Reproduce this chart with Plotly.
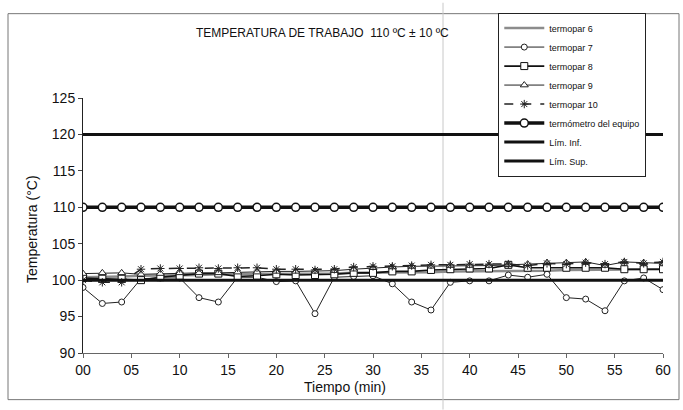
import plotly.graph_objects as go

# ---- data ----
tiempo = list(range(0, 61, 2))
tick_vals = list(range(0, 61, 5))
tick_text = ["00", "05", "10", "15", "20", "25", "30", "35", "40", "45", "50", "55", "60"]

termopar6 = [100.4, 100.4, 100.5, 100.6, 100.6, 100.7, 100.7, 100.8, 100.8, 100.8, 100.9,
             100.9, 100.9, 100.9, 101.0, 101.0, 101.1, 101.1, 101.1, 101.2, 101.2, 101.2,
             101.3, 101.3, 101.3, 101.4, 101.4, 101.4, 101.5, 101.5, 101.5]
termopar7 = [99.0, 96.8, 97.0, 100.2, 100.3, 100.3, 97.6, 97.0, 100.4, 100.4, 99.8,
             99.9, 95.4, 100.4, 100.5, 100.6, 99.5, 97.0, 95.9, 99.7, 99.9,
             99.9, 100.7, 100.4, 100.8, 97.6, 97.4, 95.8, 99.9, 100.3, 98.7]
termopar8 = [100.3, 100.2, 100.2, 100.0, 100.4, 100.6, 100.9, 100.9, 100.5, 100.6, 100.8,
             100.7, 100.7, 100.8, 101.0, 101.0, 101.2, 101.2, 101.4, 101.5, 101.6,
             101.6, 102.1, 101.7, 101.7, 101.7, 101.7, 101.7, 101.5, 101.5, 101.5]
termopar9 = [100.9, 101.0, 101.0, 100.8, 100.9, 101.0, 101.0, 101.0, 101.1, 101.1, 101.2,
             101.2, 101.2, 101.3, 101.5, 101.7, 101.8, 101.9, 101.9, 102.0, 102.0,
             102.0, 102.1, 102.2, 102.4, 102.4, 102.5, 102.0, 102.5, 102.4, 102.3]
termopar10 = [100.0, 99.7, 99.7, 101.5, 101.6, 101.6, 101.7, 101.6, 101.7, 101.7, 101.5,
              101.5, 101.4, 101.5, 101.8, 101.9, 101.9, 102.0, 102.1, 102.1, 102.2,
              102.2, 102.2, 102.0, 102.3, 102.2, 102.4, 102.2, 102.5, 102.3, 102.5]
termometro = [110.0] * 31
lim_inf = [100.0] * 31
lim_sup = [120.0] * 31

FONT = "Arial, 'Liberation Sans', sans-serif"
fig = go.Figure()

fig.add_trace(go.Scatter(x=tiempo, y=termopar6, name="termopar 6", mode="lines",
                         line=dict(color="#8c8c8c", width=2.5)))
fig.add_trace(go.Scatter(x=tiempo, y=termopar7, name="termopar 7", mode="lines+markers",
                         line=dict(color="#222", width=1),
                         marker=dict(symbol="circle", size=6, color="white",
                                     line=dict(color="#222", width=1))))
fig.add_trace(go.Scatter(x=tiempo, y=termopar8, name="termopar 8", mode="lines+markers",
                         line=dict(color="#111", width=1.6),
                         marker=dict(symbol="square", size=7, color="white",
                                     line=dict(color="#111", width=1))))
fig.add_trace(go.Scatter(x=tiempo, y=termopar9, name="termopar 9", mode="lines+markers",
                         line=dict(color="#222", width=1),
                         marker=dict(symbol="triangle-up", size=7, color="white",
                                     line=dict(color="#222", width=1))))
fig.add_trace(go.Scatter(x=tiempo, y=termopar10, name="termopar 10", mode="lines+markers",
                         line=dict(color="#222", width=1.5, dash="dash"),
                         marker=dict(symbol="asterisk-open", size=7,
                                     line=dict(color="#222", width=1))))
fig.add_trace(go.Scatter(x=tiempo, y=termometro, name="termómetro del equipo", mode="lines+markers",
                         line=dict(color="#111", width=3.5),
                         marker=dict(symbol="circle", size=8, color="white",
                                     line=dict(color="#111", width=1.5))))
fig.add_trace(go.Scatter(x=tiempo, y=lim_inf, name="Lím. Inf.", mode="lines",
                         line=dict(color="#111", width=3)))
fig.add_trace(go.Scatter(x=tiempo, y=lim_sup, name="Lím. Sup.", mode="lines",
                         line=dict(color="#111", width=3)))

fig.update_layout(
    width=683, height=410,
    margin=dict(l=83, r=20, t=96, b=57),
    paper_bgcolor="white", plot_bgcolor="white",
    font=dict(family=FONT, color="#111", size=14),
    showlegend=True,
    legend=dict(x=0.716, y=1.335, xanchor="left", yanchor="top",
                bgcolor="white", bordercolor="#222", borderwidth=1,
                font=dict(size=9, family=FONT), itemwidth=40,
                tracegroupgap=0),
    xaxis=dict(range=[0, 60], tickvals=tick_vals, ticktext=tick_text,
               showgrid=False, zeroline=False, showline=True, linecolor="#666",
               linewidth=1, ticks="outside", ticklen=4, tickcolor="#666",
               tickfont=dict(size=14), fixedrange=True),
    yaxis=dict(range=[90, 125], dtick=5, showgrid=False, zeroline=False,
               showline=True, linecolor="#222", linewidth=1, ticks="outside",
               ticklen=4, tickcolor="#444", tickfont=dict(size=14),
               fixedrange=True),
    annotations=[
        dict(text="TEMPERATURA DE TRABAJO  110 ºC ± 10 ºC", x=(322 - 83) / 580,
             y=(353 - 30) / 257, xref="paper", yref="paper", showarrow=False,
             xanchor="center", yanchor="middle",
             font=dict(size=12, family=FONT)),
        dict(text="Temperatura (°C)", x=(32 - 83) / 580, y=(353 - 228) / 257,
             xref="paper", yref="paper", showarrow=False, textangle=-90,
             xanchor="center", yanchor="middle",
             font=dict(size=14, family=FONT)),
        dict(text="Tiempo (min)", x=(345 - 83) / 580, y=(353 - 387) / 257,
             xref="paper", yref="paper", showarrow=False,
             xanchor="center", yanchor="middle",
             font=dict(size=14, family=FONT)),
    ],
    shapes=[
        dict(type="rect", xref="paper", yref="paper",
             x0=(8 - 83) / 580, x1=(679 - 83) / 580,
             y0=(353 - 400) / 257, y1=(353 - 11) / 257,
             line=dict(color="#777", width=1), layer="below"),
        dict(type="line", xref="paper", yref="paper",
             x0=(443 - 83) / 580, x1=(443 - 83) / 580,
             y0=(353 - 410) / 257, y1=(353 - 0) / 257,
             line=dict(color="#c8c8c8", width=1), layer="below"),
    ],
)

fig.write_html("out.html")
